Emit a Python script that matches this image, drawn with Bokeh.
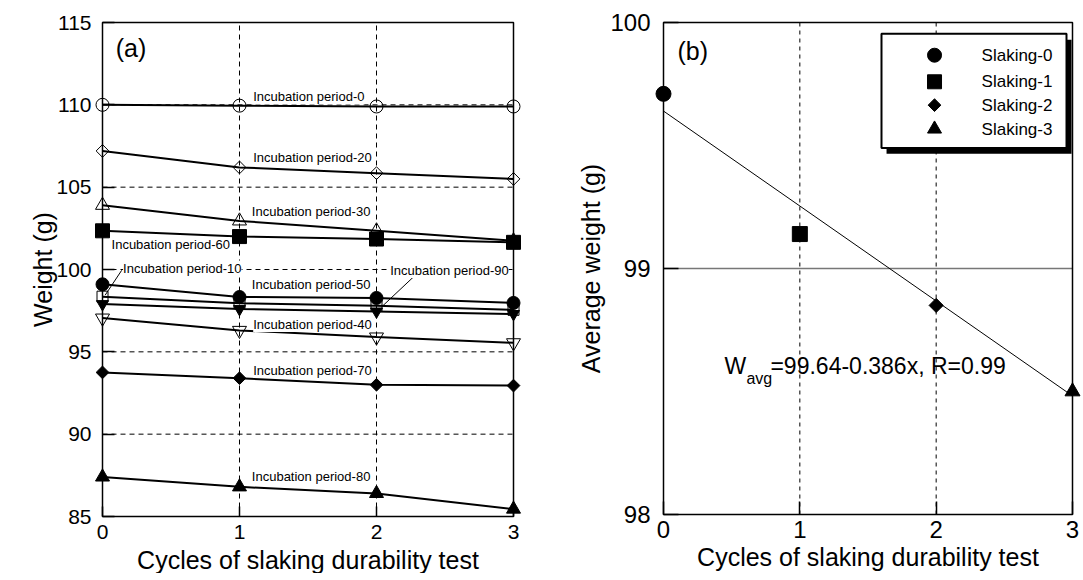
import numpy as np
from bokeh.plotting import figure
from bokeh.layouts import row
from bokeh.models import Range1d, FixedTicker, BoxAnnotation, LinearAxis
from bokeh.core.properties import value
from bokeh.embed import file_html
from bokeh.resources import INLINE

FONT = "Liberation Sans"

# ---------------- data (a) ----------------
cycles = [0, 1, 2, 3]
w_p0 = [110.0, 109.95, 109.9, 109.9]
w_p20 = [107.2, 106.2, 105.85, 105.5]
w_p30 = [103.9, 102.95, 102.35, 101.75]
w_p60 = [102.35, 102.0, 101.85, 101.65]
w_p50 = [99.1, 98.33, 98.27, 97.97]
w_p10 = [98.35, 97.95, 97.8, 97.55]
w_p90 = [97.9, 97.6, 97.45, 97.3]
w_p40 = [97.05, 96.3, 95.9, 95.55]
w_p70 = [93.75, 93.4, 93.0, 92.95]
w_p80 = [87.4, 86.8, 86.4, 85.45]

x_ticks = [0, 1, 2, 3]
y_ticks_a = [85, 90, 95, 100, 105, 110, 115]
x_grid = [1, 2]
y_grid_a = [90, 95, 100, 105, 110]

label_texts = ["Incubation period-0", "Incubation period-20", "Incubation period-30",
               "Incubation period-60", "Incubation period-10", "Incubation period-50",
               "Incubation period-90", "Incubation period-40", "Incubation period-70",
               "Incubation period-80"]
label_x = [1.10, 1.10, 1.09, 0.066, 0.15, 1.09, 2.10, 1.10, 1.10, 1.09]
label_y = [110.48, 106.8, 103.55, 101.52, 100.09, 99.07, 99.94, 96.66, 93.86, 87.42]

leader_x0 = [0.14, 2.27]
leader_y0 = [99.95, 99.55]
leader_x1 = [0.02, 2.04]
leader_y1 = [98.45, 97.75]

# ---------------- data (b) ----------------
slaking_labels = ["Slaking-0", "Slaking-1", "Slaking-2", "Slaking-3"]
slaking_cycles = [0, 1, 2, 3]
avg_weight = [99.71, 99.14, 98.85, 98.5]
fit_intercept = 99.64
fit_slope = -0.386
y_ticks_b = [98, 99, 100]
y_grid_b = [99]

# legend layout (panel b, data units)
leg_left, leg_right, leg_top, leg_bottom = 1.599, 2.956, 99.954, 99.49
leg_marker_x = 1.988
leg_text_x = 2.333
leg_row_y = [99.867, 99.759, 99.664, 99.567]

PAD = 10  # px of frame padding so edge markers are not clipped


def make_fig(xlim, ylim, xt, yt, fw, fh, left, top, width, tick_size, tin_x, tin_y,
             xstand, ystand):
    px_x = fw / (xlim[1] - xlim[0])
    px_y = fh / (ylim[1] - ylim[0])
    dx, dy = PAD / px_x, PAD / px_y
    p = figure(width=width, height=575, frame_width=fw + 2 * PAD, frame_height=fh + 2 * PAD,
               x_range=Range1d(xlim[0] - dx, xlim[1] + dx),
               y_range=Range1d(ylim[0] - dy, ylim[1] + dy),
               output_backend="svg", toolbar_location=None,
               min_border_left=left - PAD, min_border_top=top - PAD,
               min_border_right=width - left - fw - PAD, min_border_bottom=10)
    p.outline_line_color = None
    p.background_fill_color = "white"
    p.border_fill_color = "white"
    p.xgrid.visible = False
    p.ygrid.visible = False
    p.xaxis.ticker = FixedTicker(ticks=xt)
    p.yaxis.ticker = FixedTicker(ticks=yt)
    # label-only axes at the (padded) frame edges
    for ax in (p.xaxis[0], p.yaxis[0]):
        ax.axis_line_color = None
        ax.major_tick_line_color = None
        ax.minor_tick_line_color = None
        ax.major_tick_out = 0
        ax.major_tick_in = 0
        ax.major_label_text_font = FONT
        ax.major_label_text_font_size = tick_size
        ax.major_label_text_color = "black"
        ax.axis_label_text_font = FONT
        ax.axis_label_text_font_size = "25px"
        ax.axis_label_text_font_style = "normal"
        ax.axis_label_text_color = "black"
    p.xaxis[0].major_label_standoff = xstand - PAD
    p.yaxis[0].major_label_standoff = ystand - PAD
    # tick-only axes fixed on the data box edges (ticks point inward)
    tx = LinearAxis(fixed_location=ylim[0], ticker=FixedTicker(ticks=xt), bounds=tuple(xlim),
                    axis_line_color=None, major_tick_in=tin_x, major_tick_out=0,
                    major_tick_line_color="black", major_tick_line_width=1.5,
                    minor_tick_line_color=None, major_label_text_font_size="0px",
                    major_label_text_alpha=0)
    ty = LinearAxis(fixed_location=xlim[0], ticker=FixedTicker(ticks=yt), bounds=tuple(ylim),
                    axis_line_color=None, major_tick_in=tin_y, major_tick_out=0,
                    major_tick_line_color="black", major_tick_line_width=1.5,
                    minor_tick_line_color=None, major_label_text_font_size="0px",
                    major_label_text_alpha=0)
    p.add_layout(tx, "below")
    p.add_layout(ty, "left")
    return p


def frame_box(p, xlim, ylim):
    p.add_layout(BoxAnnotation(left=xlim[0], right=xlim[1], bottom=ylim[0], top=ylim[1],
                               fill_color=None, fill_alpha=0, line_color="black",
                               line_width=1.5, line_alpha=1))


# ---------------- panel (a) ----------------
xa, ya = (x_ticks[0], x_ticks[-1]), (y_ticks_a[0], y_ticks_a[-1])
p1 = make_fig(xa, ya, x_ticks, y_ticks_a, 411, 494, 102, 19, 570, "21px", 10, 12, 8, 11)
p1.xaxis[0].axis_label = "Cycles of slaking durability test"
p1.yaxis[0].axis_label = "Weight (g)"
p1.xaxis[0].axis_label_standoff = 4
p1.yaxis[0].axis_label_standoff = -4

# dashed grid
p1.segment([xa[0]] * len(y_grid_a), y_grid_a, [xa[1]] * len(y_grid_a), y_grid_a,
           line_color="black", line_width=1, line_dash="5 4")
p1.segment(x_grid, [ya[0]] * len(x_grid), x_grid, [ya[1]] * len(x_grid),
           line_color="black", line_width=1, line_dash="5 4")

series = [
    (w_p0, "circle", 13, None, 0),
    (w_p20, "square", 9, None, np.pi / 4),
    (w_p30, "triangle", 14, None, 0),
    (w_p60, "square", 14, "black", 0),
    (w_p50, "circle", 13, "black", 0),
    (w_p10, "square", 11, None, 0),
    (w_p90, "inverted_triangle", 12, "black", 0),
    (w_p40, "inverted_triangle", 14, None, 0),
    (w_p70, "square", 9, "black", np.pi / 4),
    (w_p80, "triangle", 14, "black", 0),
]
for w, mk, sz, fc, ang in series:
    p1.line(cycles, w, line_color="black", line_width=2)
for w, mk, sz, fc, ang in series:
    p1.scatter(cycles, w, marker=mk, size=sz, fill_color=fc if fc else "white",
               fill_alpha=1 if fc else 0, line_color="black", line_width=1, angle=ang)

p1.segment(leader_x0, leader_y0, leader_x1, leader_y1, line_color="black", line_width=1)
p1.text(label_x, label_y, text=label_texts, text_font=value(FONT),
        text_font_size=value("13px"), text_baseline="middle", text_align="left",
        text_color="black", background_fill_color="white")
p1.text([0.097], [113.45], text=["(a)"], text_font=value(FONT), text_font_size=value("25px"),
        text_baseline="middle", text_align="left", text_color="black")
frame_box(p1, xa, ya)

# ---------------- panel (b) ----------------
xb, yb = (x_ticks[0], x_ticks[-1]), (y_ticks_b[0], y_ticks_b[-1])
p2 = make_fig(xb, yb, x_ticks, y_ticks_b, 409, 492, 93, 22, 505, "24px", 13, 15, 6, 13)
p2.xaxis[0].axis_label = "Cycles of slaking durability test"
p2.yaxis[0].axis_label = "Average weight (g)"
p2.xaxis[0].axis_label_standoff = 2
p2.yaxis[0].axis_label_standoff = 2

p2.segment(x_grid, [yb[0]] * len(x_grid), x_grid, [yb[1]] * len(x_grid),
           line_color="black", line_width=1, line_dash="4 4")
p2.segment([xb[0]] * len(y_grid_b), y_grid_b, [xb[1]] * len(y_grid_b), y_grid_b,
           line_color="#777777", line_width=1.5)

fit_x = [xb[0], xb[1]]
fit_y = [fit_intercept + fit_slope * x for x in fit_x]
p2.line(fit_x, fit_y, line_color="black", line_width=1)

# legend box with drop shadow
p2.quad(left=[leg_left + 0.037], right=[leg_right + 0.037],
        top=[leg_top - 0.024], bottom=[leg_bottom - 0.024],
        fill_color="black", line_color=None)
p2.quad(left=[leg_left], right=[leg_right], top=[leg_top], bottom=[leg_bottom],
        fill_color="white", line_color="black", line_width=2)

mk_b = [("circle", 15, 0), ("square", 15, 0), ("square", 10, np.pi / 4), ("triangle", 15, 0)]
leg_mk = [("circle", 14, 0), ("square", 14, 0), ("square", 9, np.pi / 4), ("triangle", 14, 0)]
for i, (mk, sz, ang) in enumerate(mk_b):
    p2.scatter([slaking_cycles[i]], [avg_weight[i]], marker=mk, size=sz,
               fill_color="black", line_color="black", angle=ang)
    lm, ls, la = leg_mk[i]
    p2.scatter([leg_marker_x], [leg_row_y[i]], marker=lm, size=ls,
               fill_color="black", line_color="black", angle=la)
p2.text([leg_text_x] * 4, leg_row_y, text=slaking_labels, text_font=value(FONT),
        text_font_size=value("17px"), text_baseline="middle", text_align="left",
        text_color="black")

p2.text([0.103], [99.885], text=["(b)"], text_font=value(FONT), text_font_size=value("25px"),
        text_baseline="middle", text_align="left", text_color="black")
eq_x = [0.447]
eq_y = [98.604]
p2.text(eq_x, eq_y, text=["W"], text_font=value(FONT), text_font_size=value("23px"),
        text_baseline="middle", text_align="left", text_color="black")
p2.text(eq_x, eq_y, text=["avg"], text_font=value(FONT), text_font_size=value("16px"),
        text_baseline="middle", text_align="left", text_color="black", x_offset=22, y_offset=13)
p2.text(eq_x, eq_y, text=["=99.64-0.386x, R=0.99"], text_font=value(FONT),
        text_font_size=value("23px"), text_baseline="middle", text_align="left",
        text_color="black", x_offset=46)
frame_box(p2, xb, yb)

layout = row(p1, p2)
open("out.html", "w").write(file_html(layout, INLINE))
